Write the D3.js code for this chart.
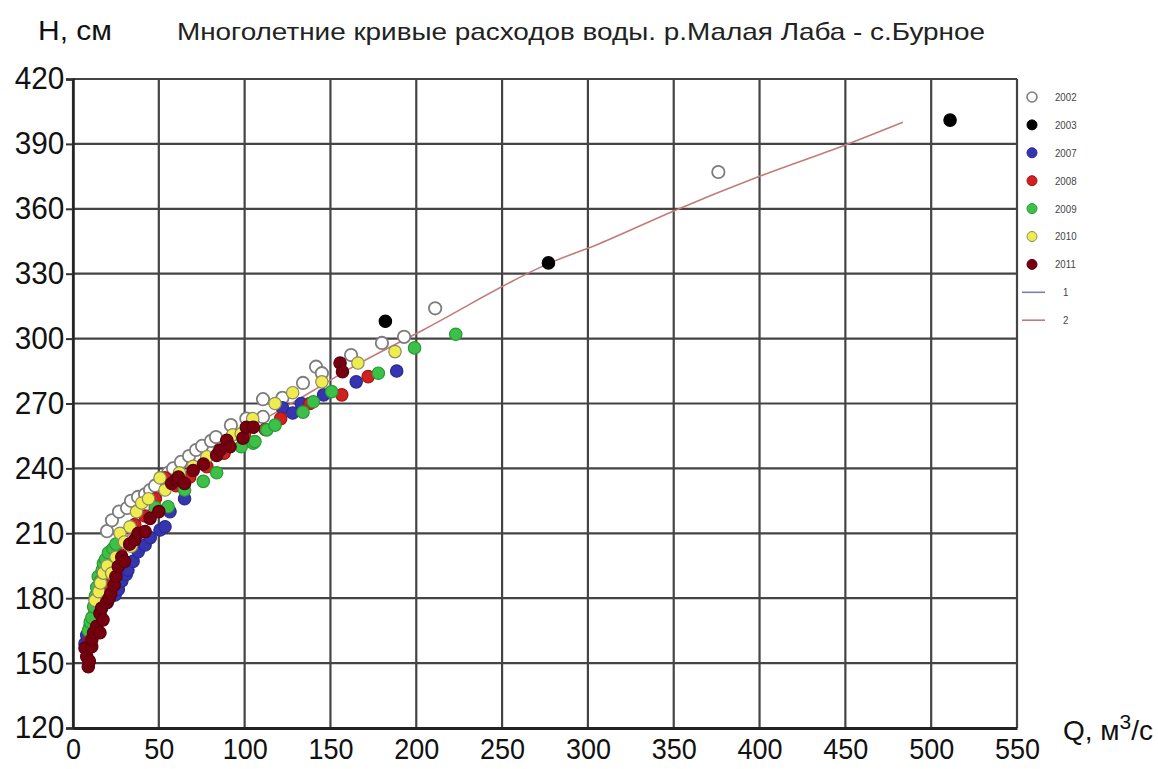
<!DOCTYPE html>
<html><head><meta charset="utf-8">
<script src="https://cdn.jsdelivr.net/npm/d3@7"></script>
<style>
html,body{margin:0;padding:0;background:#fff;}
svg{display:block;}
</style></head>
<body>
<svg id="chart" width="1158" height="769"></svg>
<script>
// ---- data (Q, м3/с ; H, см) ----
const years = ["2002","2003","2007","2008","2009","2010","2011"];
const pts2002 = [[19.8,211],[22.7,216],[26.8,220],[31.5,221.7],[33.8,225],[37.9,226.8],[42,228],[44.9,230],[47.8,232],[55.4,238],[58.3,240],[62.9,243],[67.6,245.7],[71.7,248.5],[75.2,250.4],[80.4,252.7],[83.3,254.5],[92,260],[101,263],[110.7,263.8],[110.7,272],[122,272.6],[134,279.5],[141.6,287],[145,284],[162,292.4],[180,298],[192.9,300.8],[211,314],[376,377]];
const pts2003 = [[182,308],[277,335],[511,401]];
const pts2007 = [[7,159],[8,163],[10,167],[14,173],[20,178],[24.5,181.5],[26.4,184],[28.4,188],[31,191],[32,193],[35,197],[38,201.5],[42,204.6],[45,208],[50.7,211.5],[53.6,213],[56.5,220],[65,226],[122,268],[128,265.6],[133,270],[146,274],[165,280],[188.6,285]];
const pts2008 = [[10,162],[12.8,174.5],[16,180],[20,186],[22.5,202],[28,200],[36,214],[42,218],[48,226],[53.6,235.6],[60,232],[68,236],[78,240.8],[88,247],[100,255],[112,258],[121,263],[138,270],[156.6,274],[172,282.4]];
const pts2009 = [[9,165],[10,169],[11,171],[12,176],[13,181],[13.8,185],[14.7,190],[16,188],[17,193],[17.7,196],[19,198],[20.6,201],[23.3,203],[25,205],[48,222],[55.4,222.3],[65,230],[75.9,234],[83.7,238],[98,250],[105,251.7],[106,252.4],[112.9,257.8],[117.7,260],[134,266],[140,270.8],[150.7,275.5],[177.9,284],[199,295.7],[223,302]];
const pts2010 = [[12.8,179],[15,183],[16,187],[17.7,191.6],[20,195],[22.5,191.5],[25,199],[27.4,210],[30,206],[33.2,213],[34,204],[37,220],[40,224],[44,226],[50.7,235.6],[53.6,230],[62,238],[70,241],[78,245.4],[85,248],[93,255.5],[98,256],[104.7,263],[117.7,270],[128,275],[145,280],[166,288.7],[187.6,294]];
const pts2011 = [[7,157],[8,153],[8.9,148.3],[9.5,151],[10.9,157.6],[11,161],[12,164],[13.8,167],[15.7,164],[15.7,173],[16.7,175.5],[17.5,170],[19.6,178],[21,180],[22,182],[24,186],[25,190],[26.4,194.6],[28.4,199],[30,197],[33,205],[36,207],[38,210],[42,210.8],[44.9,216.9],[50,220],[57.5,233],[60,234.7],[61.4,236],[65,233],[70,239],[76,242],[83.7,246],[85.6,248.5],[89.6,253],[91.5,250],[99,254],[101,259],[105,259],[155.6,288.7],[157,284.7]];
const curve2Q = [10,20,40,70,100,140,161,204,278,307,350,400,450,483.5];
const curve2H = [172,193,217,240,257,276,286,304,335,344,359,375,389.5,400];
const xTicks = [0,50,100,150,200,250,300,350,400,450,500,550];
const yTicks = [120,150,180,210,240,270,300,330,360,390,420];
const legendLabels = ["2002","2003","2007","2008","2009","2010","2011","1","2"];

// ---- styles ----
const fills = {"2002":"#ffffff","2003":"#000000","2007":"#3535b0","2008":"#d02020","2009":"#3cc048","2010":"#eeec50","2011":"#760010"};
const strokes = {"2002":"#7d7d7d","2003":"#000000","2007":"#2a2a90","2008":"#a01515","2009":"#2a9a35","2010":"#8a8a60","2011":"#5a000c"};
const seriesData = {"2002":pts2002,"2003":pts2003,"2007":pts2007,"2008":pts2008,"2009":pts2009,"2010":pts2010,"2011":pts2011};

const svg = d3.select("#chart");
const L=73, R=1017, T=79, B=728;
const x = d3.scaleLinear().domain([0,550]).range([L,R]);
const y = d3.scaleLinear().domain([120,420]).range([B,T]);
const tickFont = "'Liberation Sans',Arial,sans-serif";

// grid
svg.append("g").selectAll("line").data(xTicks).join("line")
  .attr("x1",d=>x(d)).attr("x2",d=>x(d)).attr("y1",T).attr("y2",B)
  .attr("stroke","#444").attr("stroke-width",2.2);
svg.append("g").selectAll("line").data(yTicks).join("line")
  .attr("x1",L).attr("x2",R).attr("y1",d=>y(d)).attr("y2",d=>y(d))
  .attr("stroke","#444").attr("stroke-width",2.2);

// axes
const yAxis = svg.append("g").attr("transform",`translate(${L},0)`)
  .call(d3.axisLeft(y).tickValues(yTicks).tickSize(7).tickPadding(2));
yAxis.select(".domain").attr("stroke","#222").attr("stroke-width",2.5);
yAxis.selectAll(".tick line").attr("stroke","#333").attr("stroke-width",2);
yAxis.selectAll("text").attr("font-family",tickFont).attr("font-size",31).attr("fill","#111")
  .attr("transform","scale(0.96,1)");

const xAxis = svg.append("g").attr("transform",`translate(0,${B})`)
  .call(d3.axisBottom(x).tickValues(xTicks).tickSize(0).tickPadding(10));
xAxis.select(".domain").attr("stroke","#222").attr("stroke-width",3);
xAxis.selectAll("text").attr("font-family",tickFont).attr("font-size",30).attr("fill","#111")
  .attr("transform","scale(0.9,1)");

// curve 2
const curvePts = curve2Q.map((q,i)=>[q,curve2H[i]]);
svg.append("path").datum(curvePts)
  .attr("d",d3.line().x(d=>x(d[0])).y(d=>y(d[1])).curve(d3.curveMonotoneX))
  .attr("fill","none").attr("stroke","#c47a7a").attr("stroke-width",1.6);

// points
years.forEach(yr=>{
  svg.append("g").selectAll("circle").data(seriesData[yr]).join("circle")
    .attr("cx",d=>x(d[0])).attr("cy",d=>y(d[1])).attr("r",6.2)
    .attr("fill",fills[yr]).attr("stroke",strokes[yr]).attr("stroke-width",yr==="2002"?1.8:1.2);
});

// titles
svg.append("text").attr("x",38).attr("y",40).attr("font-family","'Liberation Sans',Arial,sans-serif")
  .attr("font-size",28).attr("fill","#111").attr("textLength",74).attr("lengthAdjust","spacingAndGlyphs").text("Н, см");
svg.append("text").attr("x",177).attr("y",40).attr("font-family","'Liberation Sans',Arial,sans-serif")
  .attr("font-size",24).attr("fill","#222").attr("textLength",808).attr("lengthAdjust","spacingAndGlyphs")
  .text("Многолетние кривые расходов воды. р.Малая Лаба  - с.Бурное");
const ql = svg.append("text").attr("x",1063).attr("y",740).attr("font-family","'Liberation Sans',Arial,sans-serif")
  .attr("font-size",28).attr("fill","#111");
ql.append("tspan").text("Q, м");
ql.append("tspan").attr("dy",-11).attr("font-size",21).text("3");
ql.append("tspan").attr("dy",11).text("/с");

// legend
const lg = svg.append("g");
legendLabels.forEach((lab,i)=>{
  const cy = 97 + i*27.9;
  if (i<7) {
    lg.append("circle").attr("cx",1032).attr("cy",cy).attr("r",5)
      .attr("fill",fills[lab]).attr("stroke",strokes[lab]).attr("stroke-width",lab==="2002"?1.6:1);
  } else {
    lg.append("line").attr("x1",1022).attr("x2",1045).attr("y1",cy).attr("y2",cy)
      .attr("stroke",lab==="1"?"#7a80a8":"#c47a7a").attr("stroke-width",1.6);
  }
  lg.append("text").attr("x",lab.length>1?1055:1063).attr("y",cy+4).attr("font-family","'Liberation Sans',Arial,sans-serif")
    .attr("font-size",11).attr("fill","#444").attr("transform",`translate(${(lab.length>1?1055:1063)*0.12},0) scale(0.88,1)`).text(lab);
});
</script>
</body></html>
